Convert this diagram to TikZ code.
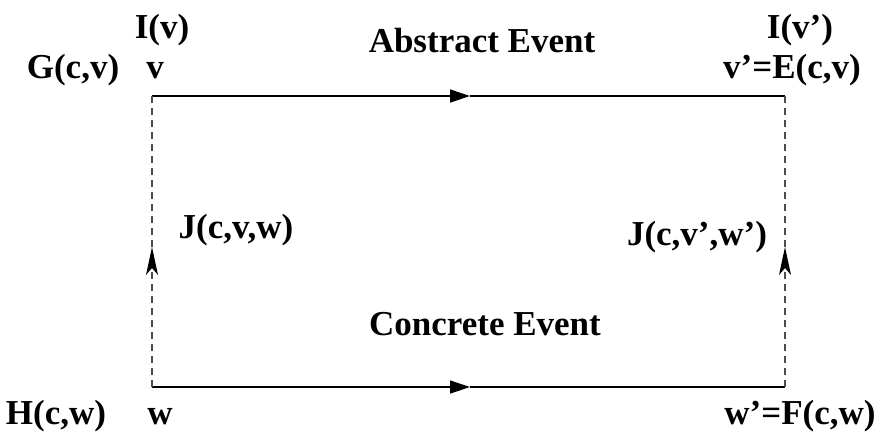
\documentclass[tikz,border=0pt]{standalone}
\usepackage{fontspec}
\setmainfont{Liberation Serif}
\usetikzlibrary{arrows.meta}
\begin{document}
\begin{tikzpicture}[x=1pt,y=-1pt,
  lbl/.style={anchor=base,inner sep=0pt,font=\fontsize{35}{40}\selectfont\bfseries},
  solidline/.style={line width=1.3pt,black},
  dashline/.style={line width=1.4pt,black!70,dash pattern=on 7pt off 5pt},
  htip/.style={-{Triangle[length=20pt,width=13pt]}},
  vtip/.style={-{Stealth[length=28pt,width=12pt,inset=7pt,black]}}]
\useasboundingbox (0,0) rectangle (884,440);
\coordinate (tl) at (152,96);
\coordinate (tr) at (785,96);
\coordinate (bl) at (152,387);
\coordinate (br) at (785,387);
\coordinate (tm) at (470,96);
\coordinate (bm) at (470,387);
\coordinate (lm) at (152,247);
\coordinate (rm) at (785,247);
% solid horizontal lines
\draw[solidline,htip] (tl) -- (tm);
\draw[solidline] (tm) -- (tr);
\draw[solidline,htip] (bl) -- (bm);
\draw[solidline] (bm) -- (br);
% dashed vertical lines
\draw[dashline,vtip] (bl) -- (lm);
\draw[dashline] (lm) -- (tl);
\draw[dashline,vtip] (br) -- (rm);
\draw[dashline] (rm) -- (tr);
% labels
\node[lbl] (iv) at (162,38) {I(v)};
\node[lbl] (gcv) at (73,78) {G(c,v)};
\node[lbl] (v) at (155,78) {v};
\node[lbl] (abs) at (482,52) {Abstract Event};
\node[lbl] (ivp) at (800,38) {I(v’)};
\node[lbl] (vp) at (792,78) {v’=E(c,v)};
\node[lbl] (jl) at (236,238) {J(c,v,w)};
\node[lbl] (jr) at (697,245) {J(c,v’,w’)};
\node[lbl] (con) at (485,335) {Concrete Event};
\node[lbl] (hcw) at (56,424) {H(c,w)};
\node[lbl] (w) at (160,424) {w};
\node[lbl] (wp) at (800,424) {w’=F(c,w)};
\end{tikzpicture}
\end{document}
